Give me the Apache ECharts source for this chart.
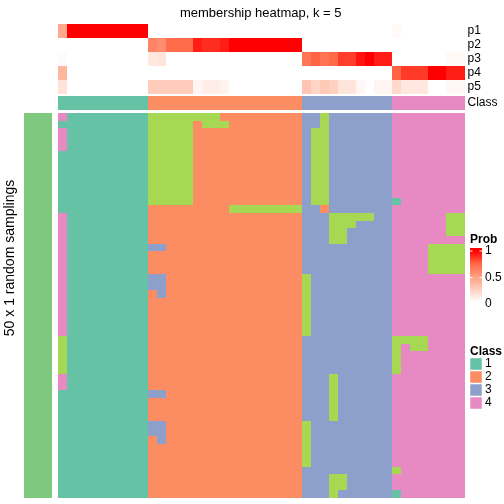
<!DOCTYPE html>
<html><head><meta charset="utf-8">
<script src="https://cdn.jsdelivr.net/npm/echarts@6/dist/echarts.min.js"></script>
<style>html,body{margin:0;padding:0;background:#fff}#c{width:504px;height:504px}</style>
</head><body><div id="c"></div>
<script>
// ---- data ----
const probNames = ['p1','p2','p3','p4','p5'];
// columns: 10 of class 1, 17 of class 2, 10 of class 3, 8 of class 4
const colClass = [1,1,1,1,1,1,1,1,1,1, 2,2,2,2,2,2,2,2,2,2,2,2,2,2,2,2,2, 3,3,3,3,3,3,3,3,3,3, 4,4,4,4,4,4,4,4];
const p1 = [0.45,1,1,1,1,1,1,1,1,1, 0,0,0,0,0,0,0,0,0,0,0,0,0,0,0,0,0, 0,0,0,0,0,0,0,0,0,0, 0.03,0,0,0,0,0,0,0];
const p2 = [0,0,0,0,0,0,0,0,0,0, 0.62,0.58,0.73,0.73,0.73,0.93,0.89,0.89,0.93,1,1,1,1,1,1,1,1, 0,0,0,0,0,0,0,0,0,0, 0,0,0,0,0,0,0,0];
const p3 = [0.02,0,0,0,0,0,0,0,0,0, 0.12,0.14,0,0,0,0,0,0,0,0,0,0,0,0,0,0,0, 0.68,0.76,0.7,0.74,0.85,0.85,0.95,1,0.93,0.93, 0,0,0,0,0,0,0.03,0.03];
const p4 = [0.38,0,0,0,0,0,0,0,0,0, 0,0,0,0,0,0,0,0,0,0,0,0,0,0,0,0,0, 0,0,0,0,0,0,0,0,0,0, 0.76,0.86,0.86,0.86,1,1,0.93,0.93];
const p5 = [0.15,0,0,0,0,0,0,0,0,0, 0.27,0.27,0.27,0.27,0.27,0.05,0.09,0.09,0.06,0,0,0,0,0,0,0,0, 0.3,0.22,0.28,0.25,0.14,0.14,0.04,0,0.05,0.05, 0.2,0.12,0.13,0.13,0,0,0.04,0.04];
// 50 random samplings (rows) x 45 columns: class label per cell
const samplings = [
"4 111111111 55555555222222222 3353333333 44444444",
"1 111111111 55555255522222222 3353333333 44444444",
"4 111111111 55555222222222222 3553333333 44444444",
"4 111111111 55555222222222222 3553333333 44444444",
"4 111111111 55555222222222222 3553333333 44444444",
"1 111111111 55555222222222222 3553333333 44444444",
"1 111111111 55555222222222222 3553333333 44444444",
"1 111111111 55555222222222222 3553333333 44444444",
"1 111111111 55555222222222222 3553333333 44444444",
"1 111111111 55555222222222222 3553333333 44444444",
"1 111111111 55555222222222222 3553333333 44444444",
"1 111111111 55555222222222222 3553333333 14444444",
"1 111111111 22222222255555555 3323333333 44444444",
"4 111111111 22222222222222222 3335555533 44444455",
"4 111111111 22222222222222222 3335553333 44444455",
"4 111111111 22222222222222222 3335533333 44444455",
"4 111111111 22222222222222222 3335533333 44444444",
"4 111111111 33222222222222222 3333333333 44445555",
"4 111111111 22222222222222222 3333333333 44445555",
"4 111111111 22222222222222222 3333333333 44445555",
"4 111111111 22222222222222222 3333333333 44445555",
"4 111111111 33222222222222222 5333333333 44444444",
"4 111111111 33222222222222222 5333333333 44444444",
"4 111111111 23222222222222222 5333333333 44444444",
"4 111111111 22222222222222222 5333333333 44444444",
"4 111111111 22222222222222222 5333333333 44444444",
"4 111111111 22222222222222222 5333333333 44444444",
"4 111111111 22222222222222222 5333333333 44444444",
"4 111111111 22222222222222222 5333333333 44444444",
"5 111111111 22222222222222222 3333333333 55554444",
"5 111111111 22222222222222222 3333333333 54554444",
"5 111111111 22222222222222222 3333333333 54444444",
"5 111111111 22222222222222222 3333333333 54444444",
"5 111111111 22222222222222222 3333333333 54444444",
"4 111111111 22222222222222222 3335333333 44444444",
"4 111111111 22222222222222222 3335333333 44444444",
"1 111111111 33222222222222222 3335333333 44444444",
"1 111111111 22222222222222222 3335333333 44444444",
"1 111111111 22222222222222222 3335333333 44444444",
"1 111111111 22222222222222222 3335333333 44444444",
"1 111111111 33222222222222222 5333333333 44444444",
"1 111111111 33222222222222222 5333333333 44444444",
"1 111111111 23222222222222222 5333333333 44444444",
"1 111111111 22222222222222222 5333333333 44444444",
"1 111111111 22222222222222222 5333333333 44444444",
"1 111111111 22222222222222222 5333333333 44444444",
"1 111111111 22222222222222222 3333333333 54444444",
"1 111111111 22222222222222222 3335533333 44444444",
"1 111111111 22222222222222222 3335533333 44444444",
"1 111111111 22222222222222222 3335333333 14444444"
];
const classLegend = ['1','2','3','4'];
const rowGroupLabel = 'top 1000 rows';

// ---- build ----
const FONT = '"Liberation Sans", Arial, Helvetica, sans-serif';
const classColors = {1:'#66C2A5',2:'#FC8D62',3:'#8DA0CB',4:'#E78AC3',5:'#A6D854',6:'#7FC97F'};
const probStops = ['#FFFFFF','#FFCFBF','#FF9E81','#FF6746','#FF0000'];
const rows = samplings.map(s => s.replace(/ /g,''));
const nCol = colClass.length;
const colIdx = colClass.map((_, i) => String(i));
const rowIdx = rows.map((_, i) => String(i));
const probData = [];
[p1,p2,p3,p4,p5].forEach((arr, r) => arr.forEach((v, c) => probData.push([c, r, v])));
const classData = colClass.map((v, c) => [c, 0, v]);
const bodyData = [];
rows.forEach((s, r) => { for (let c = 0; c < nCol; c++) bodyData.push([c, r, +s[c]]); });
const sideData = [[0, 0, 6]];

// cell renderer: snaps cell edges to whole pixels so neighbouring cells abut without seams
function cell(params, api) {
  const p = api.coord([api.value(0), api.value(1)]);
  const s = api.size([1, 1]);
  const x0 = Math.round(p[0] - s[0] / 2), x1 = Math.round(p[0] + s[0] / 2);
  const y0 = Math.round(p[1] - s[1] / 2), y1 = Math.round(p[1] + s[1] / 2);
  return {type:'rect', shape:{x:x0, y:y0, width:x1 - x0, height:y1 - y0}, style:{fill:api.visual('color')}};
}
const cellSeries = (i, data) => ({type:'custom', xAxisIndex:i, yAxisIndex:i, data:data, renderItem:cell,
  encode:{x:0, y:1}, silent:true});

const L = 57.7, W = 406.8, BT = 113, BH = 384.5;
const hiddenX = i => ({type:'category', gridIndex:i, data: i===3?['0']:colIdx, show:false});
const chart = echarts.init(document.getElementById('c'));
const gfx = [];
gfx.push({type:'text', x:260.7, y:13, style:{text:'membership heatmap, k = 5', font:'13px '+FONT, fill:'#000', textAlign:'center', textVerticalAlign:'middle'}});
gfx.push({type:'text', x:10, y:258, rotation:Math.PI/2, style:{text:'50 x 1 random samplings', font:'14px '+FONT, fill:'#000', textAlign:'center', textVerticalAlign:'middle'}});
gfx.push({type:'text', x:38.2, y:305, rotation:Math.PI/2, style:{text:rowGroupLabel, font:'11px '+FONT, fill:'#000', textAlign:'center', textVerticalAlign:'middle'}});
// Prob legend
gfx.push({type:'text', x:470, y:240, style:{text:'Prob', font:'bold 12px '+FONT, fill:'#000', textVerticalAlign:'middle'}});
gfx.push({type:'rect', shape:{x:470, y:248, width:12, height:57}, style:{fill:new echarts.graphic.LinearGradient(0,0,0,1,[
  {offset:0.05, color:probStops[4]},{offset:0.275,color:probStops[3]},{offset:0.5,color:probStops[2]},{offset:0.725,color:probStops[1]},{offset:0.95,color:probStops[0]}])}});
[[251,'1'],[277.5,'0.5'],[304,'0']].forEach(([y,t]) => {
  gfx.push({type:'line', shape:{x1:470,y1:y,x2:472.5,y2:y}, style:{stroke:'#fff', lineWidth:1}});
  gfx.push({type:'line', shape:{x1:479.5,y1:y,x2:482,y2:y}, style:{stroke:'#fff', lineWidth:1}});
  gfx.push({type:'text', x:485, y:y, style:{text:t, font:'12px '+FONT, fill:'#000', textVerticalAlign:'middle'}});
});
// Class legend
gfx.push({type:'text', x:470, y:352, style:{text:'Class', font:'bold 12px '+FONT, fill:'#000', textVerticalAlign:'middle'}});
classLegend.forEach((t, i) => {
  const y = 358 + i*13;
  gfx.push({type:'rect', shape:{x:470, y:y, width:12, height:12}, style:{fill:classColors[+t], stroke:'#fff', lineWidth:0.5}});
  gfx.push({type:'text', x:485, y:y+6, style:{text:t, font:'12px '+FONT, fill:'#000', textVerticalAlign:'middle'}});
});

chart.setOption({
  animation:false,
  graphic: gfx,
  grid:[
    {left:L, top:24, width:W, height:70},
    {left:L, top:96, width:W, height:14},
    {left:L, top:BT, width:W, height:BH},
    {left:24, top:BT, width:28.3, height:BH}
  ],
  xAxis:[hiddenX(0), hiddenX(1), hiddenX(2), hiddenX(3)],
  yAxis:[
    {type:'category', gridIndex:0, data:probNames, inverse:true, position:'right', axisLine:{show:false}, axisTick:{show:false}, axisLabel:{interval:0, margin:3, fontSize:12, color:'#000', fontFamily:FONT}},
    {type:'category', gridIndex:1, data:['Class'], position:'right', axisLine:{show:false}, axisTick:{show:false}, axisLabel:{interval:0, margin:3, fontSize:12, color:'#000', fontFamily:FONT}},
    {type:'category', gridIndex:2, data:rowIdx, inverse:true, show:false},
    {type:'category', gridIndex:3, data:['0'], show:false}
  ],
  visualMap:[
    {type:'continuous', min:0, max:1, seriesIndex:0, dimension:2, show:false, inRange:{color:probStops}},
    {type:'piecewise', seriesIndex:[1,2,3], dimension:2, show:false,
      pieces:[1,2,3,4,5,6].map(v => ({value:v, color:classColors[v]}))}
  ],
  series:[
    cellSeries(0, probData),
    cellSeries(1, classData),
    cellSeries(2, bodyData),
    cellSeries(3, sideData)
  ]
});
</script>
</body></html>
